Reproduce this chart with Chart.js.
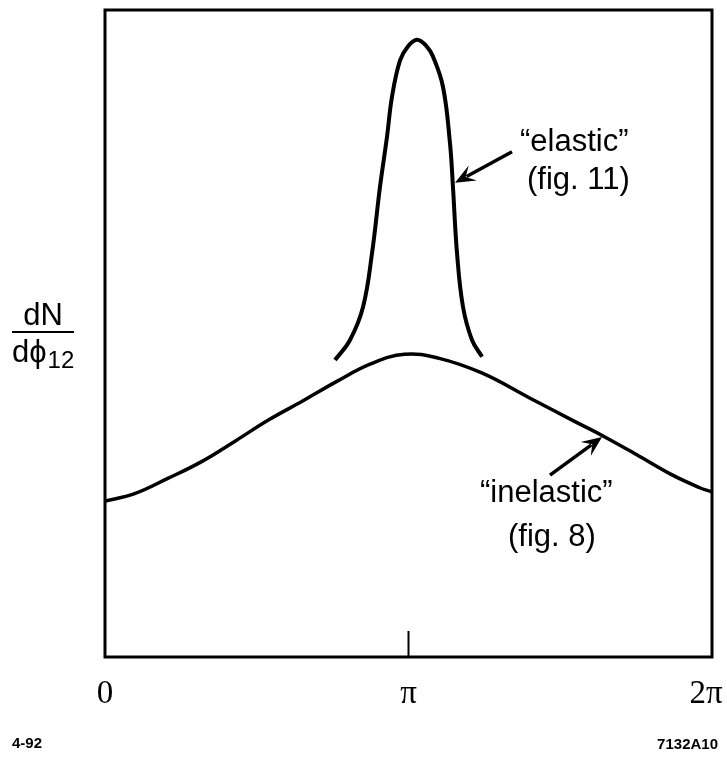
<!DOCTYPE html>
<html>
<head>
<meta charset="utf-8">
<script src="https://cdn.jsdelivr.net/npm/chart.js@4/dist/chart.umd.min.js"></script>
<style>
  html, body { margin: 0; padding: 0; background: #fff; }
  canvas { display: block; }
</style>
</head>
<body>
<canvas id="chart" width="727" height="763"></canvas>
<script>
// phi_12 in radians, dN/dphi_12 in arbitrary units (0..100 = box height)
const inelasticX = [0, 0.30, 0.65, 1.00, 1.35, 1.70, 2.05, 2.40, 2.75, 3.10, 3.45, 3.90, 4.40, 4.85, 5.15, 5.50, 5.85, 6.15, 6.283];
const inelasticY = [24.1, 25.2, 27.6, 30.2, 33.4, 36.7, 39.6, 42.6, 45.3, 46.8, 46.2, 43.9, 40.0, 36.5, 34.2, 31.3, 28.3, 26.2, 25.5];

const elasticX = [2.381, 2.536, 2.671, 2.764, 2.846, 2.919, 2.971, 3.054, 3.137, 3.229, 3.323, 3.395, 3.499, 3.571, 3.602, 3.644, 3.706, 3.799, 3.903];
const elasticY = [45.9, 49.0, 54.1, 62.4, 72.6, 80.4, 86.6, 92.2, 94.4, 95.4, 94.5, 92.8, 88.1, 79.4, 72.6, 62.4, 54.1, 49.0, 46.4];

const tickValues = [0, Math.PI, 2 * Math.PI];
const tickLabels = ["0", "\u03c0", "2\u03c0"];

// annotation texts and arrows (data coordinates)
const notes = [
    { text: "\u201celastic\u201d", x: 4.296, y: 79.6 },
    { text: "(fig. 11)", x: 4.368, y: 73.7 },
    { text: "\u201cinelastic\u201d", x: 3.882, y: 25.3 },
    { text: "(fig. 8)", x: 4.172, y: 18.5 },
];
const arrows = [
    { from: [4.213, 78.1], to: [3.623, 73.3] },
    { from: [4.606, 28.1], to: [5.145, 34.0] },
];

const toPoints = (xs, ys) => xs.map((x, i) => ({ x: x, y: ys[i] }));

const decorations = {
    id: "decorations",
    afterDraw(chart) {
        const ctx = chart.ctx;
        const xs = chart.scales.x;
        const ys = chart.scales.y;
        const a = chart.chartArea;

        ctx.save();
        ctx.strokeStyle = "#000";
        ctx.fillStyle = "#000";

        // frame
        ctx.lineWidth = 3;
        ctx.strokeRect(a.left, a.top, a.right - a.left, a.bottom - a.top);

        // tick at pi
        const px = xs.getPixelForValue(Math.PI);
        ctx.lineWidth = 2;
        ctx.beginPath();
        ctx.moveTo(px, a.bottom);
        ctx.lineTo(px, a.bottom - 26);
        ctx.stroke();

        // tick labels
        ctx.font = "33px 'Liberation Serif'";
        ctx.textAlign = "center";
        ctx.textBaseline = "middle";
        tickValues.forEach((v, i) => {
            let x = xs.getPixelForValue(v);
            if (i === tickValues.length - 1) x -= 6;
            ctx.fillText(tickLabels[i], x, a.bottom + 37);
        });

        // y label dN / dphi12
        ctx.font = "31px 'Liberation Sans'";
        ctx.textBaseline = "alphabetic";
        ctx.textAlign = "center";
        ctx.fillText("dN", 43, 325);
        ctx.lineWidth = 2;
        ctx.beginPath();
        ctx.moveTo(12, 332);
        ctx.lineTo(74, 332);
        ctx.stroke();
        ctx.textAlign = "left";
        ctx.fillText("d\u03d5", 12, 362);
        const w = ctx.measureText("d\u03d5").width;
        ctx.font = "24px 'Liberation Sans'";
        ctx.fillText("12", 12 + w + 1, 368);

        // annotations
        ctx.font = "31px 'Liberation Sans'";
        ctx.textAlign = "left";
        ctx.textBaseline = "middle";
        notes.forEach(n => {
            ctx.fillText(n.text, xs.getPixelForValue(n.x), ys.getPixelForValue(n.y));
        });

        arrows.forEach(ar => {
            const x1 = xs.getPixelForValue(ar.from[0]), y1 = ys.getPixelForValue(ar.from[1]);
            const x2 = xs.getPixelForValue(ar.to[0]), y2 = ys.getPixelForValue(ar.to[1]);
            const ang = Math.atan2(y2 - y1, x2 - x1);
            const head = 22;
            ctx.lineWidth = 3.5;
            ctx.beginPath();
            ctx.moveTo(x1, y1);
            ctx.lineTo(x2 - Math.cos(ang) * head * 0.6, y2 - Math.sin(ang) * head * 0.6);
            ctx.stroke();
            ctx.beginPath();
            ctx.moveTo(x2, y2);
            ctx.lineTo(x2 - head * Math.cos(ang - 0.4), y2 - head * Math.sin(ang - 0.4));
            ctx.lineTo(x2 - head * 0.55 * Math.cos(ang), y2 - head * 0.55 * Math.sin(ang));
            ctx.lineTo(x2 - head * Math.cos(ang + 0.4), y2 - head * Math.sin(ang + 0.4));
            ctx.closePath();
            ctx.fill();
        });

        // footer
        ctx.font = "bold 15px 'Liberation Sans'";
        ctx.textBaseline = "middle";
        ctx.textAlign = "left";
        ctx.fillText("4-92", 12, 744);
        ctx.textAlign = "right";
        ctx.fillText("7132A10", 718, 745);

        ctx.restore();
    }
};

const ctx = document.getElementById("chart").getContext("2d");
new Chart(ctx, {
    type: "line",
    data: {
        datasets: [
            {
                label: "inelastic",
                data: toPoints(inelasticX, inelasticY),
                borderColor: "#000",
                borderWidth: 3.5,
                pointRadius: 0,
                tension: 0.4,
                fill: false,
            },
            {
                label: "elastic",
                data: toPoints(elasticX, elasticY),
                borderColor: "#000",
                borderWidth: 4,
                pointRadius: 0,
                tension: 0.4,
                fill: false,
            },
        ],
    },
    options: {
        responsive: false,
        animation: false,
        layout: { padding: { left: 105, right: 15, top: 10, bottom: 106 } },
        plugins: {
            legend: { display: false },
            tooltip: { enabled: false },
        },
        scales: {
            x: { type: "linear", min: 0, max: 2 * Math.PI, display: false },
            y: { min: 0, max: 100, display: false },
        },
    },
    plugins: [decorations],
});
</script>
</body>
</html>
